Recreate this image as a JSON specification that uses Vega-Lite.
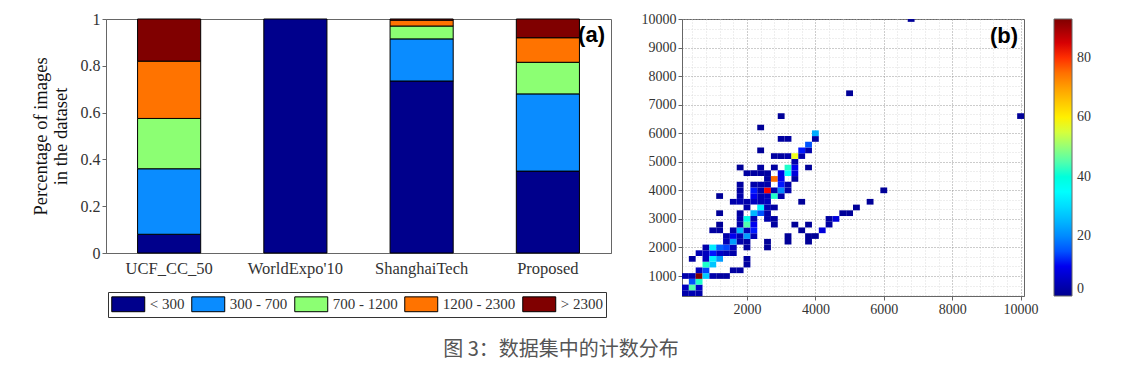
{
  "$schema": "https://vega.github.io/schema/vega-lite/v6.json",
  "background": "white",
  "padding": {"left": 30, "top": 10, "right": 5, "bottom": 5},
  "config": {"view": {"stroke": "#666"}, "font": "Liberation Serif"},
  "title": {"text": "图 3：数据集中的计数分布", "orient": "bottom", "anchor": "middle", "font": "Noto Sans CJK SC", "fontSize": 20, "fontWeight": "normal", "color": "#555", "offset": 22},
  "datasets": {
    "shares": [
      {"dataset": "UCF_CC_50", "range": "< 300", "k": 0, "share": 0.08},
      {"dataset": "UCF_CC_50", "range": "300 - 700", "k": 1, "share": 0.28},
      {"dataset": "UCF_CC_50", "range": "700 - 1200", "k": 2, "share": 0.215},
      {"dataset": "UCF_CC_50", "range": "1200 - 2300", "k": 3, "share": 0.245},
      {"dataset": "UCF_CC_50", "range": "> 2300", "k": 4, "share": 0.18},
      {"dataset": "WorldExpo'10", "range": "< 300", "k": 0, "share": 1.0},
      {"dataset": "ShanghaiTech", "range": "< 300", "k": 0, "share": 0.735},
      {"dataset": "ShanghaiTech", "range": "300 - 700", "k": 1, "share": 0.18},
      {"dataset": "ShanghaiTech", "range": "700 - 1200", "k": 2, "share": 0.055},
      {"dataset": "ShanghaiTech", "range": "1200 - 2300", "k": 3, "share": 0.025},
      {"dataset": "ShanghaiTech", "range": "> 2300", "k": 4, "share": 0.005},
      {"dataset": "Proposed", "range": "< 300", "k": 0, "share": 0.35},
      {"dataset": "Proposed", "range": "300 - 700", "k": 1, "share": 0.33},
      {"dataset": "Proposed", "range": "700 - 1200", "k": 2, "share": 0.135},
      {"dataset": "Proposed", "range": "1200 - 2300", "k": 3, "share": 0.105},
      {"dataset": "Proposed", "range": "> 2300", "k": 4, "share": 0.08}
    ],
    "cells": [
      {"x0": 100, "x1": 300, "y0": 300, "y1": 500, "n": 3}, {"x0": 300, "x1": 500, "y0": 300, "y1": 500, "n": 4}, {"x0": 500, "x1": 700, "y0": 300, "y1": 500, "n": 3},
      {"x0": 100, "x1": 300, "y0": 500, "y1": 700, "n": 5}, {"x0": 300, "x1": 500, "y0": 500, "y1": 700, "n": 45}, {"x0": 500, "x1": 700, "y0": 500, "y1": 700, "n": 6},
      {"x0": 300, "x1": 500, "y0": 700, "y1": 900, "n": 15}, {"x0": 500, "x1": 700, "y0": 700, "y1": 900, "n": 42},
      {"x0": 100, "x1": 300, "y0": 900, "y1": 1100, "n": 3}, {"x0": 300, "x1": 500, "y0": 900, "y1": 1100, "n": 4}, {"x0": 500, "x1": 700, "y0": 900, "y1": 1100, "n": 93}, {"x0": 700, "x1": 900, "y0": 900, "y1": 1100, "n": 28}, {"x0": 900, "x1": 1100, "y0": 900, "y1": 1100, "n": 3}, {"x0": 1100, "x1": 1300, "y0": 900, "y1": 1100, "n": 2}, {"x0": 1300, "x1": 1500, "y0": 900, "y1": 1100, "n": 2},
      {"x0": 500, "x1": 700, "y0": 1100, "y1": 1300, "n": 5}, {"x0": 700, "x1": 900, "y0": 1100, "y1": 1300, "n": 14}, {"x0": 1500, "x1": 1700, "y0": 1100, "y1": 1300, "n": 2}, {"x0": 1700, "x1": 1900, "y0": 1100, "y1": 1300, "n": 2},
      {"x0": 700, "x1": 900, "y0": 1300, "y1": 1500, "n": 42}, {"x0": 900, "x1": 1100, "y0": 1300, "y1": 1500, "n": 27}, {"x0": 1900, "x1": 2100, "y0": 1300, "y1": 1500, "n": 2},
      {"x0": 300, "x1": 500, "y0": 1500, "y1": 1700, "n": 2}, {"x0": 700, "x1": 900, "y0": 1500, "y1": 1700, "n": 5}, {"x0": 900, "x1": 1100, "y0": 1500, "y1": 1700, "n": 33}, {"x0": 1100, "x1": 1300, "y0": 1500, "y1": 1700, "n": 22}, {"x0": 1900, "x1": 2100, "y0": 1500, "y1": 1700, "n": 2},
      {"x0": 500, "x1": 700, "y0": 1700, "y1": 1900, "n": 4}, {"x0": 700, "x1": 900, "y0": 1700, "y1": 1900, "n": 5}, {"x0": 900, "x1": 1100, "y0": 1700, "y1": 1900, "n": 12}, {"x0": 1100, "x1": 1300, "y0": 1700, "y1": 1900, "n": 6}, {"x0": 1300, "x1": 1500, "y0": 1700, "y1": 1900, "n": 4}, {"x0": 1500, "x1": 1700, "y0": 1700, "y1": 1900, "n": 3},
      {"x0": 700, "x1": 900, "y0": 1900, "y1": 2100, "n": 3}, {"x0": 900, "x1": 1100, "y0": 1900, "y1": 2100, "n": 32}, {"x0": 1100, "x1": 1300, "y0": 1900, "y1": 2100, "n": 16}, {"x0": 1300, "x1": 1500, "y0": 1900, "y1": 2100, "n": 14}, {"x0": 1500, "x1": 1700, "y0": 1900, "y1": 2100, "n": 5}, {"x0": 1900, "x1": 2100, "y0": 1900, "y1": 2100, "n": 2}, {"x0": 2500, "x1": 2700, "y0": 1900, "y1": 2100, "n": 1},
      {"x0": 1300, "x1": 1500, "y0": 2100, "y1": 2300, "n": 4}, {"x0": 1500, "x1": 1700, "y0": 2100, "y1": 2300, "n": 22}, {"x0": 1700, "x1": 1900, "y0": 2100, "y1": 2300, "n": 3}, {"x0": 1900, "x1": 2100, "y0": 2100, "y1": 2300, "n": 2}, {"x0": 2500, "x1": 2700, "y0": 2100, "y1": 2300, "n": 1}, {"x0": 3100, "x1": 3300, "y0": 2100, "y1": 2300, "n": 1}, {"x0": 3700, "x1": 3900, "y0": 2100, "y1": 2300, "n": 1},
      {"x0": 1300, "x1": 1500, "y0": 2300, "y1": 2500, "n": 3}, {"x0": 1500, "x1": 1700, "y0": 2300, "y1": 2500, "n": 10}, {"x0": 1700, "x1": 1900, "y0": 2300, "y1": 2500, "n": 4}, {"x0": 1900, "x1": 2100, "y0": 2300, "y1": 2500, "n": 22}, {"x0": 2100, "x1": 2300, "y0": 2300, "y1": 2500, "n": 4}, {"x0": 3100, "x1": 3300, "y0": 2300, "y1": 2500, "n": 1}, {"x0": 3700, "x1": 3900, "y0": 2300, "y1": 2500, "n": 1}, {"x0": 3900, "x1": 4100, "y0": 2300, "y1": 2500, "n": 1},
      {"x0": 900, "x1": 1100, "y0": 2500, "y1": 2700, "n": 2}, {"x0": 1100, "x1": 1300, "y0": 2500, "y1": 2700, "n": 2}, {"x0": 1500, "x1": 1700, "y0": 2500, "y1": 2700, "n": 3}, {"x0": 1700, "x1": 1900, "y0": 2500, "y1": 2700, "n": 25}, {"x0": 1900, "x1": 2100, "y0": 2500, "y1": 2700, "n": 4}, {"x0": 2100, "x1": 2300, "y0": 2500, "y1": 2700, "n": 12}, {"x0": 3500, "x1": 3700, "y0": 2500, "y1": 2700, "n": 1}, {"x0": 4100, "x1": 4300, "y0": 2500, "y1": 2700, "n": 8},
      {"x0": 1100, "x1": 1300, "y0": 2700, "y1": 2900, "n": 1}, {"x0": 1700, "x1": 1900, "y0": 2700, "y1": 2900, "n": 3}, {"x0": 1900, "x1": 2100, "y0": 2700, "y1": 2900, "n": 45}, {"x0": 2100, "x1": 2300, "y0": 2700, "y1": 2900, "n": 10}, {"x0": 2700, "x1": 2900, "y0": 2700, "y1": 2900, "n": 2}, {"x0": 3300, "x1": 3500, "y0": 2700, "y1": 2900, "n": 1}, {"x0": 3700, "x1": 3900, "y0": 2700, "y1": 2900, "n": 1}, {"x0": 4300, "x1": 4500, "y0": 2700, "y1": 2900, "n": 2},
      {"x0": 1700, "x1": 1900, "y0": 2900, "y1": 3100, "n": 3}, {"x0": 1900, "x1": 2100, "y0": 2900, "y1": 3100, "n": 38}, {"x0": 2100, "x1": 2300, "y0": 2900, "y1": 3100, "n": 4}, {"x0": 2500, "x1": 2700, "y0": 2900, "y1": 3100, "n": 3}, {"x0": 2700, "x1": 2900, "y0": 2900, "y1": 3100, "n": 2}, {"x0": 4300, "x1": 4500, "y0": 2900, "y1": 3100, "n": 2}, {"x0": 4500, "x1": 4700, "y0": 2900, "y1": 3100, "n": 8},
      {"x0": 1100, "x1": 1300, "y0": 3100, "y1": 3300, "n": 1}, {"x0": 1700, "x1": 1900, "y0": 3100, "y1": 3300, "n": 2}, {"x0": 2100, "x1": 2300, "y0": 3100, "y1": 3300, "n": 25}, {"x0": 2300, "x1": 2500, "y0": 3100, "y1": 3300, "n": 15}, {"x0": 2500, "x1": 2700, "y0": 3100, "y1": 3300, "n": 3}, {"x0": 4700, "x1": 4900, "y0": 3100, "y1": 3300, "n": 1}, {"x0": 4900, "x1": 5100, "y0": 3100, "y1": 3300, "n": 1},
      {"x0": 1900, "x1": 2100, "y0": 3300, "y1": 3500, "n": 3}, {"x0": 2300, "x1": 2500, "y0": 3300, "y1": 3500, "n": 33}, {"x0": 2500, "x1": 2700, "y0": 3300, "y1": 3500, "n": 4}, {"x0": 2700, "x1": 2900, "y0": 3300, "y1": 3500, "n": 2}, {"x0": 5100, "x1": 5300, "y0": 3300, "y1": 3500, "n": 1},
      {"x0": 1500, "x1": 1700, "y0": 3500, "y1": 3700, "n": 3}, {"x0": 1700, "x1": 1900, "y0": 3500, "y1": 3700, "n": 4}, {"x0": 1900, "x1": 2100, "y0": 3500, "y1": 3700, "n": 3}, {"x0": 2100, "x1": 2300, "y0": 3500, "y1": 3700, "n": 5}, {"x0": 2300, "x1": 2500, "y0": 3500, "y1": 3700, "n": 4}, {"x0": 2500, "x1": 2700, "y0": 3500, "y1": 3700, "n": 5}, {"x0": 3500, "x1": 3700, "y0": 3500, "y1": 3700, "n": 1}, {"x0": 5500, "x1": 5700, "y0": 3500, "y1": 3700, "n": 1},
      {"x0": 1100, "x1": 1300, "y0": 3700, "y1": 3900, "n": 1}, {"x0": 1700, "x1": 1900, "y0": 3700, "y1": 3900, "n": 3}, {"x0": 2100, "x1": 2300, "y0": 3700, "y1": 3900, "n": 10}, {"x0": 2300, "x1": 2500, "y0": 3700, "y1": 3900, "n": 4}, {"x0": 2500, "x1": 2700, "y0": 3700, "y1": 3900, "n": 5}, {"x0": 2700, "x1": 2900, "y0": 3700, "y1": 3900, "n": 42}, {"x0": 2900, "x1": 3100, "y0": 3700, "y1": 3900, "n": 3},
      {"x0": 1700, "x1": 1900, "y0": 3900, "y1": 4100, "n": 2}, {"x0": 2100, "x1": 2300, "y0": 3900, "y1": 4100, "n": 12}, {"x0": 2300, "x1": 2500, "y0": 3900, "y1": 4100, "n": 3}, {"x0": 2500, "x1": 2700, "y0": 3900, "y1": 4100, "n": 82}, {"x0": 2700, "x1": 2900, "y0": 3900, "y1": 4100, "n": 3}, {"x0": 2900, "x1": 3100, "y0": 3900, "y1": 4100, "n": 20}, {"x0": 3100, "x1": 3300, "y0": 3900, "y1": 4100, "n": 3}, {"x0": 5900, "x1": 6100, "y0": 3900, "y1": 4100, "n": 1},
      {"x0": 1700, "x1": 1900, "y0": 4100, "y1": 4300, "n": 2}, {"x0": 2100, "x1": 2300, "y0": 4100, "y1": 4300, "n": 3}, {"x0": 2300, "x1": 2500, "y0": 4100, "y1": 4300, "n": 3}, {"x0": 2500, "x1": 2700, "y0": 4100, "y1": 4300, "n": 3}, {"x0": 2900, "x1": 3100, "y0": 4100, "y1": 4300, "n": 12}, {"x0": 3100, "x1": 3300, "y0": 4100, "y1": 4300, "n": 3},
      {"x0": 2500, "x1": 2700, "y0": 4300, "y1": 4500, "n": 2}, {"x0": 2700, "x1": 2900, "y0": 4300, "y1": 4500, "n": 75}, {"x0": 2900, "x1": 3100, "y0": 4300, "y1": 4500, "n": 10}, {"x0": 3300, "x1": 3500, "y0": 4300, "y1": 4500, "n": 2},
      {"x0": 1900, "x1": 2100, "y0": 4500, "y1": 4700, "n": 2}, {"x0": 2100, "x1": 2300, "y0": 4500, "y1": 4700, "n": 2}, {"x0": 2300, "x1": 2500, "y0": 4500, "y1": 4700, "n": 2}, {"x0": 2500, "x1": 2700, "y0": 4500, "y1": 4700, "n": 2}, {"x0": 2900, "x1": 3100, "y0": 4500, "y1": 4700, "n": 9}, {"x0": 3100, "x1": 3300, "y0": 4500, "y1": 4700, "n": 35}, {"x0": 3300, "x1": 3500, "y0": 4500, "y1": 4700, "n": 8},
      {"x0": 1700, "x1": 1900, "y0": 4700, "y1": 4900, "n": 1}, {"x0": 2300, "x1": 2500, "y0": 4700, "y1": 4900, "n": 2}, {"x0": 2700, "x1": 2900, "y0": 4700, "y1": 4900, "n": 2}, {"x0": 3100, "x1": 3300, "y0": 4700, "y1": 4900, "n": 42}, {"x0": 3300, "x1": 3500, "y0": 4700, "y1": 4900, "n": 10}, {"x0": 3700, "x1": 3900, "y0": 4700, "y1": 4900, "n": 1},
      {"x0": 3300, "x1": 3500, "y0": 4900, "y1": 5100, "n": 3},
      {"x0": 2700, "x1": 2900, "y0": 5100, "y1": 5300, "n": 2}, {"x0": 2900, "x1": 3100, "y0": 5100, "y1": 5300, "n": 2}, {"x0": 3100, "x1": 3300, "y0": 5100, "y1": 5300, "n": 3}, {"x0": 3300, "x1": 3500, "y0": 5100, "y1": 5300, "n": 57}, {"x0": 3500, "x1": 3700, "y0": 5100, "y1": 5300, "n": 3},
      {"x0": 2300, "x1": 2500, "y0": 5300, "y1": 5500, "n": 1}, {"x0": 3500, "x1": 3700, "y0": 5300, "y1": 5500, "n": 12}, {"x0": 3700, "x1": 3900, "y0": 5300, "y1": 5500, "n": 3},
      {"x0": 3700, "x1": 3900, "y0": 5500, "y1": 5700, "n": 15},
      {"x0": 2900, "x1": 3100, "y0": 5700, "y1": 5900, "n": 2}, {"x0": 3100, "x1": 3300, "y0": 5700, "y1": 5900, "n": 2}, {"x0": 3900, "x1": 4100, "y0": 5700, "y1": 5900, "n": 2},
      {"x0": 3900, "x1": 4100, "y0": 5900, "y1": 6100, "n": 24},
      {"x0": 2300, "x1": 2500, "y0": 6100, "y1": 6300, "n": 1},
      {"x0": 2900, "x1": 3100, "y0": 6500, "y1": 6700, "n": 1}, {"x0": 9900, "x1": 10100, "y0": 6500, "y1": 6700, "n": 1},
      {"x0": 4900, "x1": 5100, "y0": 7300, "y1": 7500, "n": 1},
      {"x0": 6700, "x1": 6900, "y0": 9900, "y1": 10100, "n": 1}
    ]
  },
  "spacing": 28,
  "hconcat": [
    {
      "width": 505,
      "height": 234,
      "data": {"name": "shares"},
      "title": {"text": "(a)", "anchor": "end", "frame": "group", "offset": -36, "dx": -6, "font": "Liberation Sans", "fontSize": 22, "fontWeight": "bold", "color": "black"},
      "mark": {"type": "bar", "stroke": "black", "strokeWidth": 1},
      "encoding": {
        "x": {"field": "dataset", "type": "nominal", "sort": ["UCF_CC_50", "WorldExpo'10", "ShanghaiTech", "Proposed"],
              "scale": {"paddingInner": 0.5, "paddingOuter": 0.25},
              "axis": {"title": null, "labelAngle": 0, "labelFont": "Liberation Serif", "labelFontSize": 16.5, "labelColor": "#333", "ticks": false, "labelPadding": 7, "domainColor": "#666"}},
        "y": {"field": "share", "type": "quantitative", "stack": "zero",
              "scale": {"domain": [0, 1], "nice": false},
              "axis": {"values": [0, 0.2, 0.4, 0.6, 0.8, 1], "format": "~g", "title": ["Percentage of images", "in the dataset"], "titleFont": "Liberation Serif", "titleFontSize": 18.5, "titleFontWeight": "normal", "titleColor": "#111", "titlePadding": 10, "titleLineHeight": 20, "labelFont": "Liberation Serif", "labelFontSize": 16, "labelColor": "#333", "grid": false, "tickSize": 4, "tickColor": "#666", "domainColor": "#666"}},
        "color": {"field": "range", "type": "nominal",
                  "scale": {"domain": ["< 300", "300 - 700", "700 - 1200", "1200 - 2300", "> 2300"], "range": ["#00008c", "#0a8cff", "#8cff73", "#ff7300", "#800000"]},
                  "legend": {"orient": "none", "legendX": 2, "legendY": 273, "direction": "horizontal", "title": null, "symbolType": "M-2,-0.9H2V0.9H-2Z", "symbolSize": 272, "symbolOffset": 8.25, "symbolStrokeColor": "black", "symbolStrokeWidth": 1, "symbolOpacity": 1, "labelFont": "Liberation Serif", "labelFontSize": 15, "labelColor": "#333", "labelOffset": 12.5, "columnPadding": 4, "strokeColor": "#333", "fillColor": "white", "padding": 3}},
        "order": {"field": "k", "type": "quantitative"}
      }
    },
    {
      "width": 342,
      "height": 277,
      "data": {"name": "cells"},
      "title": {"text": "(b)", "anchor": "end", "frame": "group", "offset": -36, "dx": -6, "font": "Liberation Sans", "fontSize": 22, "fontWeight": "bold", "color": "black"},
      "mark": {"type": "rect", "clip": true},
      "encoding": {
        "x": {"field": "x0", "type": "quantitative",
              "scale": {"domain": [100, 10100], "nice": false, "zero": false},
              "axis": {"title": null, "format": "d", "values": [400, 800, 1200, 1600, 2000, 2400, 2800, 3200, 3600, 4000, 4400, 4800, 5200, 5600, 6000, 6400, 6800, 7200, 7600, 8000, 8400, 8800, 9200, 9600, 10000],
                       "labelExpr": "datum.value % 2000 === 0 ? datum.label : ''", "labelOverlap": false, "labelFlush": false,
                       "grid": true, "gridDash": [1, 2],
                       "gridColor": {"condition": {"test": "datum.value % 2000 === 0", "value": "#999"}, "value": "#ddd"},
                       "tickOpacity": {"condition": {"test": "datum.value % 2000 === 0", "value": 1}, "value": 0},
                       "tickSize": 4, "tickColor": "#666", "domainColor": "#666",
                       "labelFont": "Liberation Serif", "labelFontSize": 14, "labelColor": "#333"}},
        "x2": {"field": "x1"},
        "y": {"field": "y0", "type": "quantitative",
              "scale": {"domain": [300, 10000], "nice": false, "zero": false},
              "axis": {"title": null, "format": "d", "values": [333.333, 666.667, 1000, 1333.333, 1666.667, 2000, 2333.333, 2666.667, 3000, 3333.333, 3666.667, 4000, 4333.333, 4666.667, 5000, 5333.333, 5666.667, 6000, 6333.333, 6666.667, 7000, 7333.333, 7666.667, 8000, 8333.333, 8666.667, 9000, 9333.333, 9666.667, 10000],
                       "labelExpr": "abs(datum.value / 1000 - round(datum.value / 1000)) < 0.001 ? datum.label : ''", "labelOverlap": false, "labelFlush": false,
                       "grid": true, "gridDash": [1, 2],
                       "gridColor": {"condition": {"test": "abs(datum.value / 1000 - round(datum.value / 1000)) < 0.001", "value": "#999"}, "value": "#ddd"},
                       "tickOpacity": {"condition": {"test": "abs(datum.value / 1000 - round(datum.value / 1000)) < 0.001", "value": 1}, "value": 0},
                       "tickSize": 4, "tickColor": "#666", "domainColor": "#666",
                       "labelFont": "Liberation Serif", "labelFontSize": 14, "labelColor": "#333"}},
        "y2": {"field": "y1"},
        "color": {"field": "n", "type": "quantitative",
                  "scale": {"domain": [0, 11.6, 34.9, 58.1, 81.4, 93], "range": ["#00008f", "#0000ff", "#00ffff", "#ffff00", "#ff0000", "#800000"]},
                  "legend": {"title": null, "orient": "right", "offset": 30, "gradientLength": 277, "gradientThickness": 18, "values": [0, 20, 40, 60, 80], "labelFont": "Liberation Serif", "labelFontSize": 14, "labelColor": "#333", "gradientStrokeColor": "#666", "gradientStrokeWidth": 1, "padding": 0, "labelOffset": 5}}
      }
    }
  ]
}
